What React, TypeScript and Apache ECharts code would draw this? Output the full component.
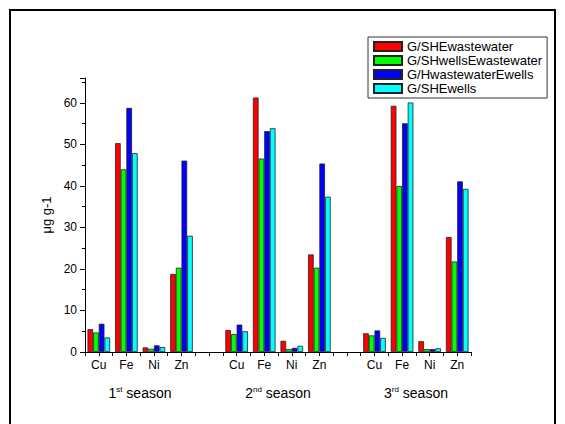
import React, { useEffect, useRef } from "react";
import * as echarts from "echarts";

const elements = ["Cu", "Fe", "Ni", "Zn"];
const seasonNums = ["1", "2", "3"];
const seasonSups = ["st", "nd", "rd"];
const seasonWord = "season";
const seriesNames = [
  "G/SHEwastewater",
  "G/SHwellsEwastewater",
  "G/HwastewaterEwells",
  "G/SHEwells",
];
const seriesColors = ["#ff0000", "#00ff00", "#0000ff", "#00ffff"];

// values per series, per season: [Cu, Fe, Ni, Zn]
const shewastewater = [
  [5.5, 50.3, 1.1, 18.8],
  [5.3, 61.3, 2.7, 23.5],
  [4.5, 59.3, 2.6, 27.7],
];
const shwellsEwastewater = [
  [4.7, 44.0, 0.8, 20.3],
  [4.3, 46.6, 0.7, 20.3],
  [4.0, 40.0, 0.7, 21.8],
];
const hwastewaterEwells = [
  [6.8, 58.8, 1.6, 46.1],
  [6.6, 53.2, 1.0, 45.4],
  [5.2, 55.1, 0.7, 41.1],
];
const shewells = [
  [3.5, 47.9, 1.2, 28.0],
  [5.0, 53.9, 1.5, 37.4],
  [3.4, 60.1, 0.9, 39.3],
];
const allSeries = [shewastewater, shwellsEwastewater, hwastewaterEwells, shewells];

const yTicks = { min: 0, max: 66, interval: 10 };

const FONT = "'Liberation Sans', Arial, sans-serif";

export default function App() {
  const ref = useRef<HTMLDivElement>(null);
  useEffect(() => {
    if (!ref.current) return;
    const chart = echarts.init(ref.current, null, { renderer: "svg" });
    const categories: string[] = [];
    seasonNums.forEach((_, si) => {
      elements.forEach((e) => categories.push(e));
      if (si < seasonNums.length - 1) categories.push("");
    });
    const seasonLabels = seasonNums.map((n, i) => n + seasonSups[i] + " " + seasonWord);
    const buildData = (vals: number[][]) => {
      const out: (number | string)[] = [];
      vals.forEach((season, si) => {
        season.forEach((v) => out.push(v));
        if (si < vals.length - 1) out.push("-");
      });
      return out;
    };
    chart.setOption({
      animation: false,
      backgroundColor: "#ffffff",
      textStyle: { fontFamily: FONT },
      graphic: [
        {
          type: "rect",
          shape: { x: 10, y: 10, width: 545, height: 430 },
          style: { fill: "none", stroke: "#000", lineWidth: 2 },
          silent: true,
        },
      ],
      legend: {
        orient: "vertical",
        left: 368,
        top: 37,
        itemWidth: 28,
        itemHeight: 9,
        itemGap: 1,
        padding: [3, 5, 3, 5],
        borderColor: "#333",
        borderWidth: 1,
        icon: "rect",
        textStyle: { fontSize: 13, color: "#000", fontFamily: FONT, lineHeight: 13 },
        data: seriesNames,
      },
      grid: [
        { left: 85, right: 94, top: 78, bottom: 72 },
        { left: 71, right: 80, top: 78, bottom: 72 },
      ],
      xAxis: [
        {
          type: "category",
          gridIndex: 0,
          data: categories,
          position: "bottom",
          axisLine: { show: true, lineStyle: { color: "#000", width: 1 } },
          axisTick: { show: true, alignWithLabel: true, length: 4, lineStyle: { color: "#000" } },
          axisLabel: { color: "#000", fontSize: 12, margin: 7, interval: 0, fontFamily: FONT },
        },
        {
          type: "category",
          gridIndex: 0,
          data: categories,
          position: "bottom",
          axisLine: { show: false },
          axisTick: { show: true, length: 4, interval: 0, lineStyle: { color: "#000" } },
          axisLabel: { show: false },
        },
        {
          type: "category",
          gridIndex: 1,
          data: seasonLabels,
          position: "bottom",
          axisLine: { show: false },
          axisTick: { show: false },
          axisLabel: {
            color: "#000",
            fontSize: 14,
            margin: 33,
            interval: 0,
            fontFamily: FONT,
            formatter: (_v: string, idx: number) =>
              "{n|" + seasonNums[idx] + "}{sup|" + seasonSups[idx] + "}{n| " + seasonWord + "}",
            rich: {
              n: { fontSize: 14, lineHeight: 16, color: "#000", fontFamily: FONT },
              sup: { fontSize: 8, lineHeight: 10, verticalAlign: "top", color: "#000", fontFamily: FONT },
            },
          },
        },
      ],
      yAxis: [
        {
          type: "value",
          gridIndex: 0,
          min: yTicks.min,
          max: yTicks.max,
          interval: yTicks.interval,
          name: "μg g-1",
          nameLocation: "middle",
          nameGap: 26,
          nameTextStyle: { color: "#000", fontSize: 13, fontFamily: FONT },
          axisLine: { show: true, lineStyle: { color: "#000", width: 1 } },
          axisTick: { show: true, length: 5, lineStyle: { color: "#000" } },
          minorTick: { show: true, splitNumber: 2, length: 3, lineStyle: { color: "#000" } },
          splitLine: { show: false },
          axisLabel: { color: "#000", fontSize: 12, margin: 8, showMaxLabel: false, fontFamily: FONT },
        },
        {
          type: "value",
          gridIndex: 1,
          show: false,
        },
      ],
      series: allSeries.map((vals, i) => ({
        name: seriesNames[i],
        type: "bar",
        xAxisIndex: 0,
        yAxisIndex: 0,
        data: buildData(vals),
        barGap: "0%",
        barCategoryGap: "18%",
        itemStyle: { color: seriesColors[i], borderColor: "#222", borderWidth: 0.8 },
      })),
    });
    return () => chart.dispose();
  }, []);
  return (
    <div
      ref={ref}
      style={{ position: "fixed", left: 0, top: 0, width: 565, height: 424 }}
    />
  );
}
